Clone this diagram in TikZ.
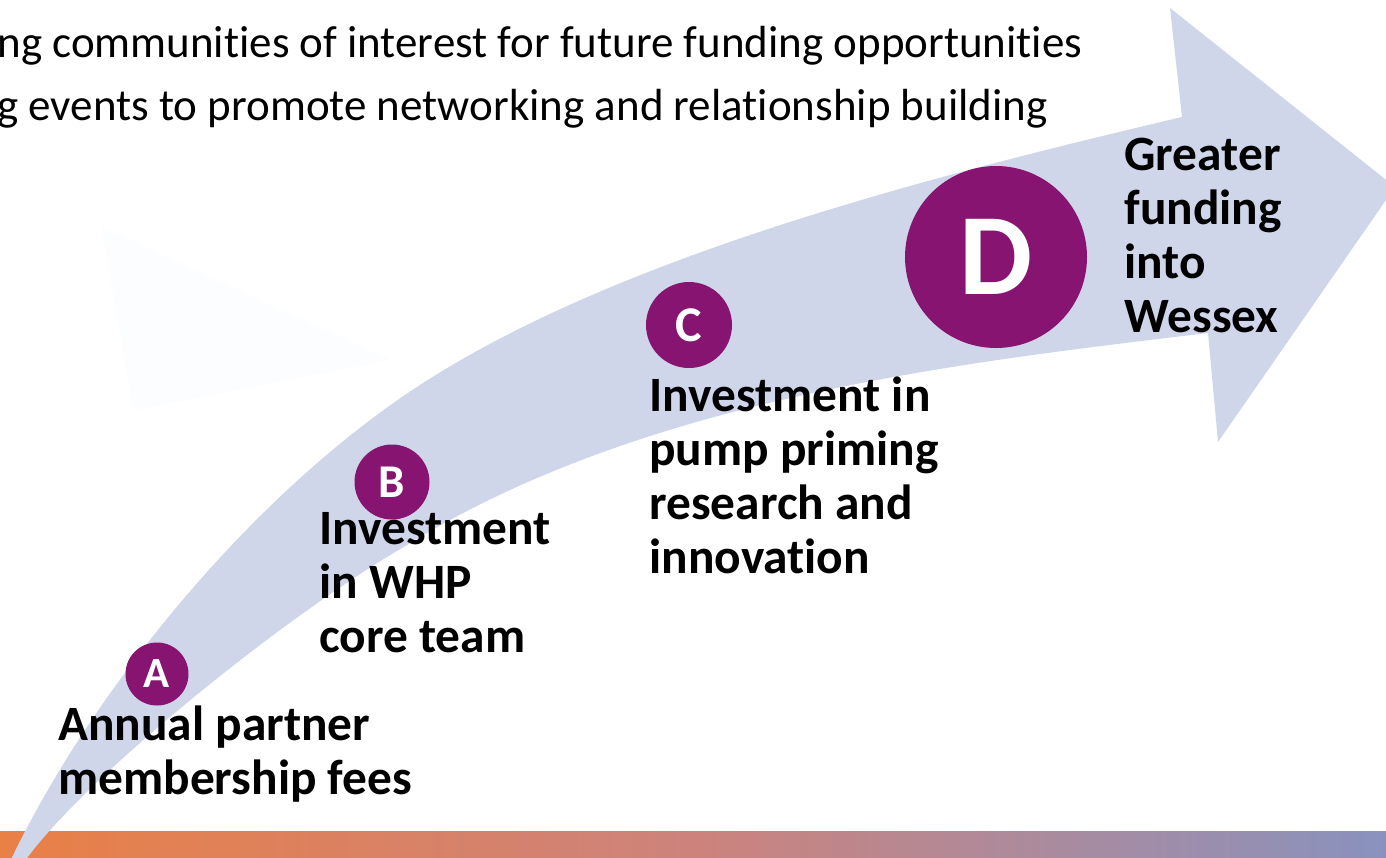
\documentclass[tikz,border=0pt]{standalone}
\usepackage{fontspec}
\setmainfont{Carlito}[Ligatures=NoCommon]
\definecolor{band}{RGB}{207,214,234}
\definecolor{plum}{RGB}{134,20,112}
\definecolor{barL}{RGB}{233,128,70}
\definecolor{barM}{RGB}{205,131,124}
\definecolor{barR}{RGB}{137,146,190}
\definecolor{ghost}{RGB}{252,253,254}
\newcommand{\stack}[1]{\vtop{\baselineskip=27pt\lineskiplimit=-100pt\halign{##\hfil\cr #1\crcr}}}
\tikzset{
  lab/.style={anchor=base west, inner sep=0pt, font=\fontsize{24.7}{27}\selectfont\bfseries},
  disc/.style={circle, fill=plum, text=white, inner sep=0pt},
  topline/.style={anchor=base west, inner sep=0pt, font=\fontsize{22.5}{26}\selectfont},
}
\begin{document}
\begin{tikzpicture}[x=0.5pt,y=-0.5pt]
\useasboundingbox (0,0) rectangle (1386,857);
\clip (0,0) rectangle (1386,857);
\fill[white] (0,0) rectangle (1386,857);
% faint ghost shape
\fill[ghost] (102,227) -- (133,410) -- (390,360) -- cycle;
% bottom bar
\shade[left color=barL, right color=barR, middle color=barM] (0,831) rectangle (1386,857);
% curved arrow
\coordinate (tail1) at (6,870);
\coordinate (up) at (402,397);
\coordinate (baseT) at (1182,117);
\coordinate (barbT) at (1170,8);
\coordinate (tip) at (1395,187);
\coordinate (barbB) at (1218,442);
\coordinate (baseB) at (1208,333);
\coordinate (lo) at (402,548);
\coordinate (tail2) at (20,868);
\fill[band] (tail1) .. controls (86,698) and (242,507) .. (up)
  .. controls (602,259) and (932,176) .. (baseT)
  -- (barbT) -- (tip) -- (barbB) -- (baseB)
  .. controls (958,363) and (642,398) .. (lo)
  .. controls (282,618) and (75,785) .. (tail2)
  -- cycle;
% top text
\node[topline] (t1) at (-3,57) {ng communities of interest for future funding opportunities};
\node[topline] (t2) at (-3,120) {g events to promote networking and relationship building};
% circles
\node[disc, minimum size=31.5pt] (A) at (157,674) {\fontsize{21.5}{24}\selectfont\bfseries A};
\node[disc, minimum size=37.5pt] (B) at (392,482) {\fontsize{23.5}{26}\selectfont\bfseries B};
\node[disc, minimum size=43pt] (C) at (689,325) {\fontsize{25}{28}\selectfont\bfseries C};
\node[disc, minimum size=91pt] (D) at (996,257) {\fontsize{58}{60}\selectfont\bfseries D};
% labels
\node[lab] (la) at (58,740) {\stack{Annual partner\cr membership fees}};
\node[lab] (lb) at (319,544) {\stack{Investment\cr in WHP\cr core team}};
\node[lab] (lc) at (649,411) {\stack{Investment in\cr pump priming\cr research and\cr innovation}};
\node[lab] (ld) at (1124,170) {\stack{Greater\cr funding\cr into\cr Wessex}};
\end{tikzpicture}
\end{document}
